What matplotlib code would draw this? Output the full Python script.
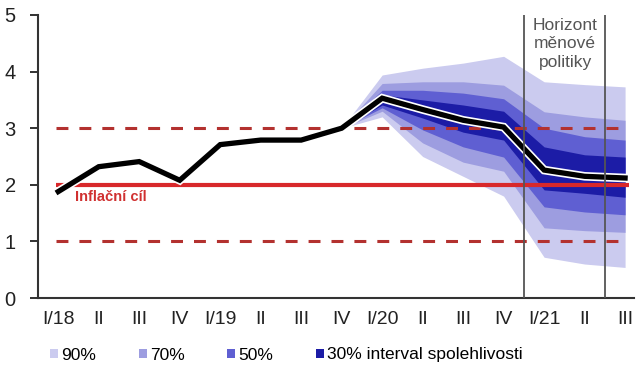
"""
Fan chart: inflation forecast with confidence bands
"""

import matplotlib
matplotlib.use("Agg")
from matplotlib import pyplot as plt
from matplotlib import patheffects as pe
from matplotlib.patches import Patch

plt.rcParams['font.family'] = ['Liberation Sans', 'DejaVu Sans']

quarters = ['I/18', 'II', 'III', 'IV', 'I/19', 'II', 'III', 'IV',
            'I/20', 'II', 'III', 'IV', 'I/21', 'II', 'III']
inflation = [1.88, 2.32, 2.41, 2.08, 2.71, 2.79, 2.79, 3.0,
             3.53, 3.33, 3.14, 3.02, 2.26, 2.15, 2.12]

# fan starts at IV/19 (index 7)
fan_start = 7
lo90 = [3.0, 3.2, 2.5, 2.15, 1.8, 0.72, 0.6, 0.54]
lo70 = [3.0, 3.3, 2.74, 2.4, 2.24, 1.24, 1.19, 1.16]
lo50 = [3.0, 3.36, 2.97, 2.67, 2.49, 1.61, 1.52, 1.47]
lo30 = [3.0, 3.41, 3.18, 2.93, 2.79, 1.91, 1.85, 1.78]
hi30 = [3.0, 3.59, 3.5, 3.41, 3.30, 2.67, 2.53, 2.49]
hi50 = [3.0, 3.67, 3.67, 3.62, 3.52, 3.0, 2.85, 2.79]
hi70 = [3.0, 3.79, 3.82, 3.82, 3.76, 3.29, 3.2, 3.14]
hi90 = [3.0, 3.94, 4.06, 4.15, 4.27, 3.82, 3.77, 3.73]

target = 2.0
tolerance = [1.0, 3.0]
horizon = [11.5, 13.5]

band_labels = ['90%', '70%', '50%', '30% interval spolehlivosti']
band_colors = ['#cbcbef', '#9d9de0', '#5f5fd2', '#1c1ca6']

fig = plt.figure(figsize=(6.4, 3.79), dpi=100)
ax = fig.add_axes([38/640, 1 - 298/379, 596/640, 283/379])

x = list(range(len(quarters)))
xf = x[fan_start:]

bands = [(lo90, hi90), (lo70, hi70), (lo50, hi50), (lo30, hi30)]
for (lo, hi), c in zip(bands, band_colors):
    ax.fill_between(xf, lo, hi, color=c, lw=0, zorder=1)

for t in tolerance:
    ax.hlines(t, -0.05, 13.85, color='#b3312f', lw=2.2, linestyles=(0, (3.9, 3.6)), zorder=2)
ax.hlines(target, -0.05, 14.1, color='#d8282b', lw=3, zorder=2)

ax.plot(x, inflation, color='black', lw=3.8, zorder=3, solid_joinstyle='miter',
        path_effects=[pe.Stroke(linewidth=6.2, foreground='white'), pe.Normal()])

for h in horizon:
    ax.axvline(h, color='#555555', lw=1.3, zorder=4)

ax.text(0.42, 1.78, 'Inflační cíl', color='#d03030', fontsize=10.5,
        fontweight='bold', va='center', ha='left')
ax.text(12.52, 4.95, 'Horizont\nměnové\npolitiky', color='#555555', fontsize=12.5,
        ha='center', va='top', linespacing=1.3, zorder=5)

ax.set_xlim(-0.5, 14.22)
ax.set_ylim(0, 5)
ax.set_xticks(x)
ax.set_xticklabels(quarters)
ax.set_yticks(range(6))
ax.tick_params(axis='x', length=0, pad=9, labelsize=14, colors='#222222')
ax.tick_params(axis='y', length=6, width=1.3, pad=10, labelsize=14.5, colors='#222222')
for s in ['top', 'right']:
    ax.spines[s].set_visible(False)
for s in ['left', 'bottom']:
    ax.spines[s].set_linewidth(1.5)
    ax.spines[s].set_color('#333333')

handles = [Patch(facecolor=c, edgecolor='none') for c in band_colors]
fig.legend(handles, band_labels, loc='center left', bbox_to_anchor=(50/640, 1 - 355/379),
           ncol=4, frameon=False, fontsize=12.5, handlelength=0.45, handleheight=0.45,
           handletextpad=0.2, columnspacing=2.45, borderpad=0, borderaxespad=0)

fig.savefig('out.png', dpi=100)
